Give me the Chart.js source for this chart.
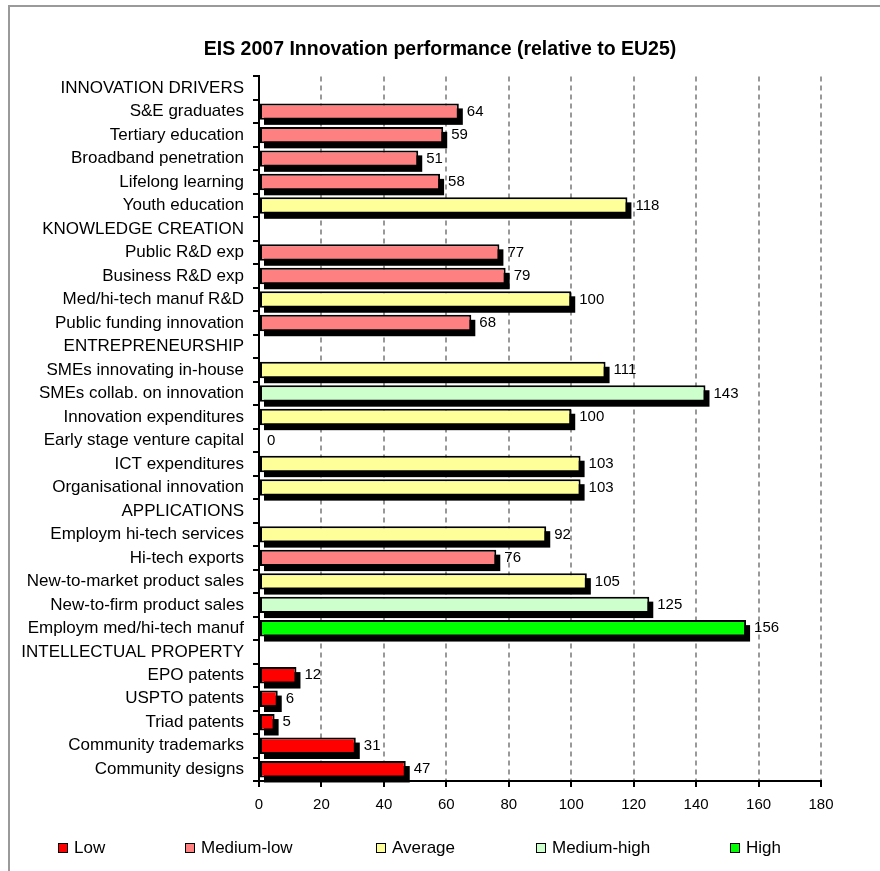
<!DOCTYPE html>
<html>
<head>
<meta charset="utf-8">
<title>EIS 2007 Innovation performance</title>
<script src="https://cdn.jsdelivr.net/npm/chart.js@4/dist/chart.umd.min.js"></script>
<style>
  html, body { margin: 0; padding: 0; background: #fff; }
  #wrap { position: relative; width: 880px; height: 871px; overflow: hidden; }
  #frame { position: absolute; left: 8px; top: 5px; right: -10px; bottom: -10px;
           border-top: 2px solid #9a9a9a; border-left: 2px solid #9a9a9a; }
  canvas { position: absolute; left: 0; top: 0; }
</style>
</head>
<body>
<div id="wrap">
  <div id="frame"></div>
  <canvas id="chart" width="880" height="871"></canvas>
</div>
<script>
// Indicator rows, top to bottom (group headings carry no score)
const categories = [
  "INNOVATION DRIVERS", "S&E graduates", "Tertiary education", "Broadband penetration",
  "Lifelong learning", "Youth education",
  "KNOWLEDGE CREATION", "Public R&D exp", "Business R&D exp", "Med/hi-tech manuf R&D",
  "Public funding innovation",
  "ENTREPRENEURSHIP", "SMEs innovating in-house", "SMEs collab. on innovation",
  "Innovation expenditures", "Early stage venture capital", "ICT expenditures",
  "Organisational innovation",
  "APPLICATIONS", "Employm hi-tech services", "Hi-tech exports",
  "New-to-market product sales", "New-to-firm product sales", "Employm med/hi-tech manuf",
  "INTELLECTUAL PROPERTY", "EPO patents", "USPTO patents", "Triad patents",
  "Community trademarks", "Community designs"
];

// Score relative to EU25 (= 100)
const scores = [
  null, 64, 59, 51, 58, 118,
  null, 77, 79, 100, 68,
  null, 111, 143, 100, 0, 103, 103,
  null, 92, 76, 105, 125, 156,
  null, 12, 6, 5, 31, 47
];

// Performance class of each row
const levels = [
  null, "Medium-low", "Medium-low", "Medium-low", "Medium-low", "Average",
  null, "Medium-low", "Medium-low", "Average", "Medium-low",
  null, "Average", "Medium-high", "Average", "Low", "Average", "Average",
  null, "Average", "Medium-low", "Average", "Medium-high", "High",
  null, "Low", "Low", "Low", "Low", "Low"
];

const levelNames = ["Low", "Medium-low", "Average", "Medium-high", "High"];
const levelColors = ["#FF0000", "#FF8080", "#FFFF99", "#CCFFCC", "#00FF00"];

const xTicks = [0, 20, 40, 60, 80, 100, 120, 140, 160, 180];

const FONT = "'Liberation Sans', Arial, sans-serif";

const datasets = levelNames.map((name, i) => ({
  label: name,
  data: scores.map((v, k) => (levels[k] === name ? v : null)),
  backgroundColor: levelColors[i],
  borderColor: "#000",
  borderWidth: 2,
  borderSkipped: false,
  grouped: false,
  categoryPercentage: 1.0,
  barPercentage: 0.7
}));

// Black drop shadow beneath each bar
const barShadow = {
  id: "barShadow",
  beforeDatasetsDraw(chart) {
    const ctx = chart.ctx;
    ctx.save();
    ctx.fillStyle = "#000";
    chart.data.datasets.forEach((ds, di) => {
      const meta = chart.getDatasetMeta(di);
      meta.data.forEach((bar, k) => {
        const v = ds.data[k];
        if (v === null || v === 0) return;
        const p = bar.getProps(["x", "y", "base", "height"], true);
        ctx.fillRect(p.base + 4, p.y - p.height / 2 + 5, p.x - p.base, p.height);
      });
    });
    ctx.restore();
  }
};

// Score printed at the end of each bar
const valueLabels = {
  id: "valueLabels",
  afterDatasetsDraw(chart) {
    const ctx = chart.ctx;
    ctx.save();
    ctx.font = "15px " + FONT;
    ctx.fillStyle = "#000";
    ctx.textAlign = "left";
    ctx.textBaseline = "middle";
    chart.data.datasets.forEach((ds, di) => {
      const meta = chart.getDatasetMeta(di);
      meta.data.forEach((bar, k) => {
        const v = ds.data[k];
        if (v === null) return;
        const p = bar.getProps(["x", "y"], true);
        ctx.fillText(String(v), p.x + 8, p.y);
      });
    });
    ctx.restore();
  }
};

// Legend row along the bottom
const legendX = [58, 185, 376, 536, 730];
const legendRow = {
  id: "legendRow",
  afterDraw(chart) {
    const ctx = chart.ctx;
    const y = 848;
    ctx.save();
    ctx.font = "17px " + FONT;
    ctx.textAlign = "left";
    ctx.textBaseline = "middle";
    chart.data.datasets.forEach((ds, i) => {
      const x = legendX[i];
      ctx.fillStyle = ds.backgroundColor;
      ctx.fillRect(x, y - 5, 10, 10);
      ctx.strokeStyle = "#000";
      ctx.lineWidth = 1;
      ctx.strokeRect(x + 0.5, y - 4.5, 9, 9);
      ctx.fillStyle = "#000";
      ctx.fillText(ds.label, x + 16, y);
    });
    ctx.restore();
  }
};

new Chart(document.getElementById("chart"), {
  type: "bar",
  data: { labels: categories, datasets },
  options: {
    indexAxis: "y",
    responsive: false,
    animation: false,
    devicePixelRatio: 1,
    layout: { padding: { left: 0, right: 0, top: 0, bottom: 50 } },
    plugins: {
      legend: { display: false },
      tooltip: { enabled: false },
      title: {
        display: true,
        text: "EIS 2007 Innovation performance (relative to EU25)",
        color: "#000",
        font: { family: FONT, size: 19.5, weight: "bold" },
        padding: { top: 38, bottom: 15 }
      }
    },
    scales: {
      x: {
        type: "linear",
        min: 0,
        max: 180,
        afterBuildTicks(scale) { scale.ticks = xTicks.map(v => ({ value: v })); },
        afterFit(scale) { scale.height = 40; },
        ticks: { color: "#000", font: { family: FONT, size: 15 }, padding: 9 },
        grid: {
          color: "#999",
          lineWidth: 2,
          tickColor: "#000",
          tickWidth: 2,
          tickLength: 6,
          tickBorderDash: []
        },
        border: { display: true, color: "#000", width: 2, dash: [5, 4] }
      },
      y: {
        type: "category",
        afterFit(scale) { scale.width = 259; },
        ticks: { color: "#000", font: { family: FONT, size: 17 }, padding: 9, autoSkip: false },
        grid: {
          drawOnChartArea: false,
          drawTicks: true,
          offset: true,
          color: "#000",
          lineWidth: 2,
          tickLength: 6
        },
        border: { display: true, color: "#000", width: 2 }
      },
      // empty margin to the right of the plot
      yRight: {
        type: "category",
        position: "right",
        afterFit(scale) { scale.width = 59; },
        ticks: { display: false },
        grid: { display: false },
        border: { display: false }
      }
    }
  },
  plugins: [barShadow, valueLabels, legendRow]
});
</script>
</body>
</html>
